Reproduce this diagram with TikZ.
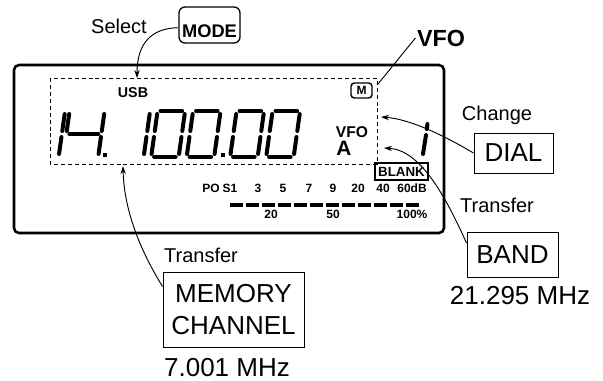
\documentclass[tikz,border=0pt]{standalone}
\usepackage{fontspec}
\setmainfont{Liberation Sans}
\usetikzlibrary{arrows.meta}

% seven segment bars (u to the right, v upwards written as -v)
\def\sega{(5,-47) -- (\dw-5,-47)}
\def\segb{(\dw-2,-44) -- (\dw-2,-27)}
\def\segc{(\dw-2,-21) -- (\dw-2,-4)}
\def\segd{(5,-1) -- (\dw-5,-1)}
\def\sege{(2,-21) -- (2,-4)}
\def\segf{(2,-44) -- (2,-27)}
\def\segg{(5,-24) -- (\dw-5,-24)}
\newcommand{\lcddigit}[3][31.5]{%
  \begin{scope}[shift={(#2,158)}, xslant=0.14]
    \def\dw{#1}%
    \foreach \s in {#3}{\edef\lcdpath{\noexpand\draw[lcdseg] \csname seg\s\endcsname;}\lcdpath}
  \end{scope}}

\begin{document}
\begin{tikzpicture}[x=0.75pt, y=-0.75pt,
            lcdframe/.style={line width=1.9pt, rounded corners=3.75pt},
            dashbox/.style={line width=0.7pt, dash pattern=on 3pt off 2.2pt},
            lcdseg/.style={line width=3pt, line cap=round},
            lcdtxt/.style={font=\fontsize{9}{10}\selectfont\bfseries, inner sep=0pt, anchor=base},
            lbl/.style={font=\fontsize{15}{18}\selectfont, inner sep=0pt, anchor=base},
            bigtxt/.style={font=\fontsize{19.5}{24}\selectfont, inner sep=0pt, anchor=base},
            keybox/.style={draw, line width=0.75pt, font=\fontsize{19.5}{24}\selectfont, align=center, inner sep=0pt},
            modebox/.style={draw, rounded corners=4.5pt, line width=1pt, font=\fontsize{13.7}{16}\selectfont\bfseries, minimum width=45.75pt, inner sep=0pt, text height=22.5pt, text depth=4.5pt},
            arrow/.style={-{Stealth[length=6pt, width=4pt]}, line width=0.7pt}
        ]
        \useasboundingbox (0,0) rectangle (603,380);

        % --- LCD ---
        \draw[lcdframe] (14,65) rectangle (444,233);
        \draw[dashbox] (50,78) rectangle (377,164);

        % --- Frequency readout ---
        \lcddigit{29}{b,c}
        \lcddigit[39]{61}{f,g,b,c}
        \lcddigit{114}{b,c}
        \lcddigit{149}{a,b,c,d,e,f}
        \lcddigit{184.5}{a,b,c,d,e,f}
        \lcddigit{228}{a,b,c,d,e,f}
        \lcddigit{264}{a,b,c,d,e,f}
        \fill (103,152.5) rectangle (107,156.5);
        \fill (220.5,153) rectangle (224.5,157);
        \draw[lcdseg] (427.5,124) -- (426.8,129);
        \draw[lcdseg] (426,135) -- (423,154);

        % --- Indicators ---
        \node[lcdtxt, font=\fontsize{10.7}{12}\selectfont\bfseries] (usb) at (133,97) {USB};
        \node[draw, rounded corners=2.5pt, line width=1.1pt, minimum width=15.75pt, minimum height=11.25pt, inner sep=0pt, font=\fontsize{9}{10}\selectfont\bfseries] (mch) at (361.5,90.5) {M};
        \node[lcdtxt, font=\fontsize{11.7}{13}\selectfont\bfseries] (vfoind) at (352,137) {VFO};
        \node[lcdtxt, font=\fontsize{15.6}{18}\selectfont\bfseries] (vfoa) at (344,155) {A};
        \node[draw, line width=1.1pt, minimum width=39.75pt, minimum height=12.75pt, inner sep=0pt, font=\fontsize{10}{11}\selectfont\bfseries] (blank) at (401.5,171.5) {BLANK};

        % --- Meter ---
        \foreach \x/\t [count=\i] in {211/PO, 230/S1, 258/3, 283/5, 309/7, 333/9, 358/20, 383/40, 412/60dB}
            \node[lcdtxt] (db\i) at (\x,192) {\t};
        \draw[line width=3pt, dash pattern=on 9.4pt off 2.6pt] (230,205) -- (418.5,205);
        \foreach \x/\t [count=\i] in {271/20, 333/50, 412/100\%}
            \node[lcdtxt] (po\i) at (\x,218) {\t};

        % --- Keys and labels ---
        \node[modebox] (mode) at (209.5,25) {MODE};
        \node[lbl] (select) at (119,33) {Select};
        \node[font=\fontsize{17.5}{20}\selectfont\bfseries, inner sep=1pt, anchor=base] (vfo) at (441,46) {VFO};
        \node[lbl] (change) at (497,120) {Change};
        \node[keybox, minimum width=59.25pt, minimum height=30pt] (dial) at (513.5,153) {DIAL};
        \node[lbl] (bandxfer) at (497,212) {Transfer};
        \node[keybox, minimum width=68.25pt, minimum height=33.75pt] (band) at (512.5,254.5) {BAND};
        \node[bigtxt] (bandfreq) at (520,304) {21.295 MHz};
        \node[lbl] (memxfer) at (201,262) {Transfer};
        \node[keybox, minimum width=105.75pt, minimum height=56.25pt] (memch) at (233.5,309.5) {MEMORY\\CHANNEL};
        \node[bigtxt] (memfreq) at (227,376) {7.001 MHz};

        % --- Connectors ---
        \coordinate (usbtip) at (137,78);
        \coordinate (vfoend) at (378,84);
        \coordinate (dialtip) at (381,117);
        \coordinate (bandtip) at (384,148);
        \coordinate (memtip) at (123,166);
        \draw[arrow] (mode.185) .. controls (150,28) and (137,45) .. (usbtip);
        \draw[line width=0.7pt] (vfo.west) -- (vfoend);
        \draw[arrow] (dial.west) .. controls (445,136) and (410,119) .. (dialtip);
        \draw[arrow] (band.166) .. controls (445,195) and (420,150) .. (bandtip);
        \draw[arrow] (memch.162) .. controls (140,250) and (124,210) .. (memtip);

    \end{tikzpicture}
\end{document}
